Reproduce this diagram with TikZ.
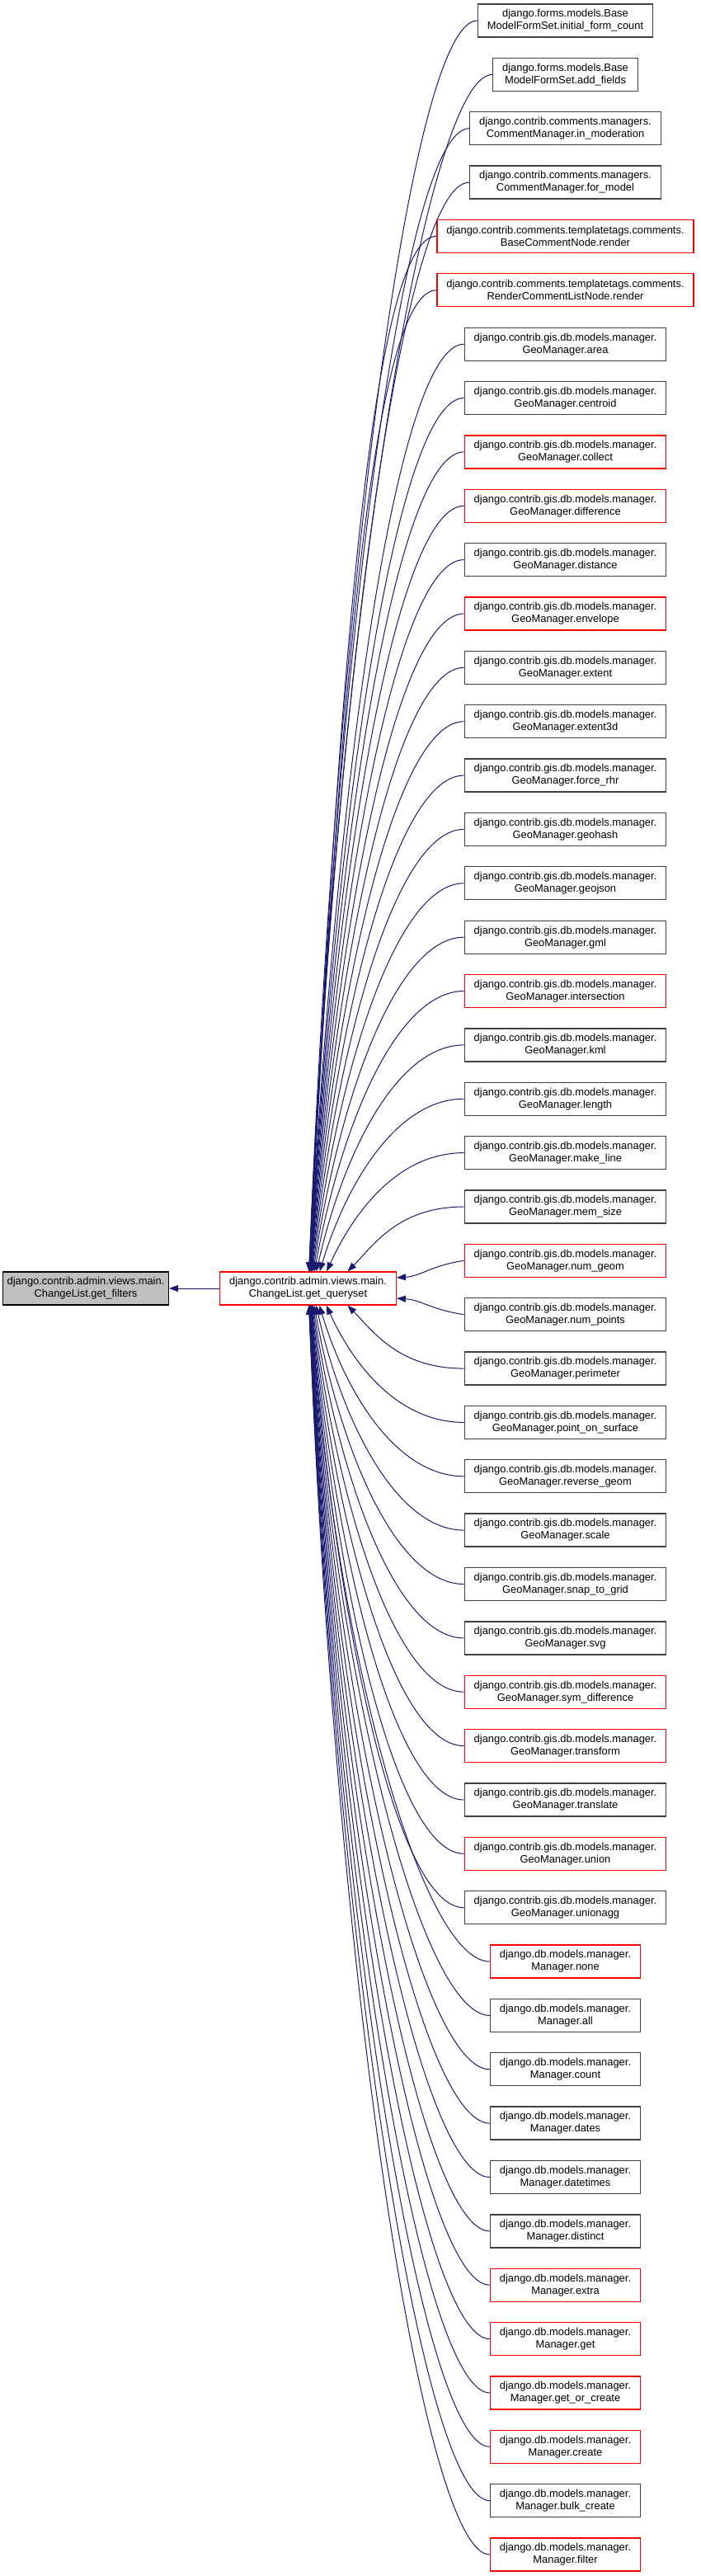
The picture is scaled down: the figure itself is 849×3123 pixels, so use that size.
\documentclass[tikz,border=0pt]{standalone}
\usepackage{fontspec}
\setmainfont{Liberation Sans}
\usetikzlibrary{arrows.meta}
\definecolor{edgeblue}{HTML}{191970}
\definecolor{boxred}{HTML}{FF0000}
\definecolor{boxgray}{HTML}{404040}
\definecolor{curfill}{HTML}{BFBFBF}
\begin{document}
\begin{tikzpicture}[x=1pt,y=1pt,
  fn/.style={draw=boxgray,line width=1.3pt,fill=white,inner xsep=11.5pt,inner ysep=0pt,
    minimum height=40pt,align=center,font=\fontsize{12.9}{15}\selectfont},
  fnred/.style={fn,draw=boxred},
  fncur/.style={fn,fill=curfill,draw=black,inner xsep=5pt},
  edge/.style={draw=edgeblue,line width=1pt,-{Triangle[length=11pt,width=8pt]}}]
\useasboundingbox (0,0) rectangle (849,-3123);

% the function and its one caller
\node[fncur] (gf) at (104,-1562) {django.contrib.admin.views.main.\\ChangeList.get\_filters};
\node[fnred] (qs) at (373.5,-1562) {django.contrib.admin.views.main.\\ChangeList.get\_queryset};
\draw[edge] (qs.west) -- (gf.east);

% callees of get_queryset
\node[fn] (c1) at (685.5,-25) {django.forms.models.Base\\ModelFormSet.initial\_form\_count};
\node[fn] (c2) at (685.5,-90.4) {django.forms.models.Base\\ModelFormSet.add\_fields};
\node[fn] (c3) at (685.5,-155.7) {django.contrib.comments.managers.\\CommentManager.in\_moderation};
\node[fn] (c4) at (685.5,-221.1) {django.contrib.comments.managers.\\CommentManager.for\_model};
\node[fnred] (c5) at (685.5,-286.4) {django.contrib.comments.templatetags.comments.\\BaseCommentNode.render};
\node[fnred] (c6) at (685.5,-351.8) {django.contrib.comments.templatetags.comments.\\RenderCommentListNode.render};
\node[fn] (c7) at (685.5,-417.2) {django.contrib.gis.db.models.manager.\\GeoManager.area};
\node[fn] (c8) at (685.5,-482.5) {django.contrib.gis.db.models.manager.\\GeoManager.centroid};
\node[fnred] (c9) at (685.5,-547.9) {django.contrib.gis.db.models.manager.\\GeoManager.collect};
\node[fnred] (c10) at (685.5,-613.3) {django.contrib.gis.db.models.manager.\\GeoManager.difference};
\node[fn] (c11) at (685.5,-678.6) {django.contrib.gis.db.models.manager.\\GeoManager.distance};
\node[fnred] (c12) at (685.5,-744.0) {django.contrib.gis.db.models.manager.\\GeoManager.envelope};
\node[fn] (c13) at (685.5,-809.3) {django.contrib.gis.db.models.manager.\\GeoManager.extent};
\node[fn] (c14) at (685.5,-874.7) {django.contrib.gis.db.models.manager.\\GeoManager.extent3d};
\node[fn] (c15) at (685.5,-940.1) {django.contrib.gis.db.models.manager.\\GeoManager.force\_rhr};
\node[fn] (c16) at (685.5,-1005.4) {django.contrib.gis.db.models.manager.\\GeoManager.geohash};
\node[fn] (c17) at (685.5,-1070.8) {django.contrib.gis.db.models.manager.\\GeoManager.geojson};
\node[fn] (c18) at (685.5,-1136.2) {django.contrib.gis.db.models.manager.\\GeoManager.gml};
\node[fnred] (c19) at (685.5,-1201.5) {django.contrib.gis.db.models.manager.\\GeoManager.intersection};
\node[fn] (c20) at (685.5,-1266.9) {django.contrib.gis.db.models.manager.\\GeoManager.kml};
\node[fn] (c21) at (685.5,-1332.2) {django.contrib.gis.db.models.manager.\\GeoManager.length};
\node[fn] (c22) at (685.5,-1397.6) {django.contrib.gis.db.models.manager.\\GeoManager.make\_line};
\node[fn] (c23) at (685.5,-1463.0) {django.contrib.gis.db.models.manager.\\GeoManager.mem\_size};
\node[fnred] (c24) at (685.5,-1528.3) {django.contrib.gis.db.models.manager.\\GeoManager.num\_geom};
\node[fn] (c25) at (685.5,-1593.7) {django.contrib.gis.db.models.manager.\\GeoManager.num\_points};
\node[fn] (c26) at (685.5,-1659.1) {django.contrib.gis.db.models.manager.\\GeoManager.perimeter};
\node[fn] (c27) at (685.5,-1724.4) {django.contrib.gis.db.models.manager.\\GeoManager.point\_on\_surface};
\node[fn] (c28) at (685.5,-1789.8) {django.contrib.gis.db.models.manager.\\GeoManager.reverse\_geom};
\node[fn] (c29) at (685.5,-1855.1) {django.contrib.gis.db.models.manager.\\GeoManager.scale};
\node[fn] (c30) at (685.5,-1920.5) {django.contrib.gis.db.models.manager.\\GeoManager.snap\_to\_grid};
\node[fn] (c31) at (685.5,-1985.9) {django.contrib.gis.db.models.manager.\\GeoManager.svg};
\node[fnred] (c32) at (685.5,-2051.2) {django.contrib.gis.db.models.manager.\\GeoManager.sym\_difference};
\node[fnred] (c33) at (685.5,-2116.6) {django.contrib.gis.db.models.manager.\\GeoManager.transform};
\node[fn] (c34) at (685.5,-2182.0) {django.contrib.gis.db.models.manager.\\GeoManager.translate};
\node[fnred] (c35) at (685.5,-2247.3) {django.contrib.gis.db.models.manager.\\GeoManager.union};
\node[fn] (c36) at (685.5,-2312.7) {django.contrib.gis.db.models.manager.\\GeoManager.unionagg};
\node[fnred] (c37) at (685.5,-2378.0) {django.db.models.manager.\\Manager.none};
\node[fn] (c38) at (685.5,-2443.4) {django.db.models.manager.\\Manager.all};
\node[fn] (c39) at (685.5,-2508.8) {django.db.models.manager.\\Manager.count};
\node[fn] (c40) at (685.5,-2574.1) {django.db.models.manager.\\Manager.dates};
\node[fn] (c41) at (685.5,-2639.5) {django.db.models.manager.\\Manager.datetimes};
\node[fn] (c42) at (685.5,-2704.9) {django.db.models.manager.\\Manager.distinct};
\node[fnred] (c43) at (685.5,-2770.2) {django.db.models.manager.\\Manager.extra};
\node[fnred] (c44) at (685.5,-2835.6) {django.db.models.manager.\\Manager.get};
\node[fnred] (c45) at (685.5,-2900.9) {django.db.models.manager.\\Manager.get\_or\_create};
\node[fnred] (c46) at (685.5,-2966.3) {django.db.models.manager.\\Manager.create};
\node[fn] (c47) at (685.5,-3031.7) {django.db.models.manager.\\Manager.bulk\_create};
\node[fnred] (c48) at (685.5,-3097.0) {django.db.models.manager.\\Manager.filter};

% calls coming in from above
\foreach \i in {1,...,23}{
  \pgfmathsetmacro\dy{1517-65.362*(\i-1)}
  \pgfmathsetmacro\r{79/\dy}
  \pgfmathsetmacro\dx{48*\r*sqrt(sqrt(\r))}
  \pgfmathsetmacro\ang{90-45*\r}
  \pgfmathsetmacro\ind{0.55*\dy}
  \draw[edge] (c\i.west) .. controls +(-80,0) and +(\ang:\ind pt) .. ([xshift=\dx pt]qs.north);
}
% calls coming in from below
\foreach \i in {26,...,48}{
  \pgfmathsetmacro\dy{65.362*(\i-1)+25-1582}
  \pgfmathsetmacro\r{77/\dy}
  \pgfmathsetmacro\dx{48*\r*sqrt(sqrt(\r))}
  \pgfmathsetmacro\ang{-90+45*\r}
  \pgfmathsetmacro\ind{0.55*\dy}
  \draw[edge] (c\i.west) .. controls +(-80,0) and +(\ang:\ind pt) .. ([xshift=\dx pt]qs.south);
}
% the two closest ones
\draw[edge] (c24.west) .. controls +(-40,-6) and +(30,2) .. ([yshift=13pt]qs.east);
\draw[edge] (c25.west) .. controls +(-40,6) and +(30,-2) .. ([yshift=-12pt]qs.east);
\end{tikzpicture}
\end{document}
